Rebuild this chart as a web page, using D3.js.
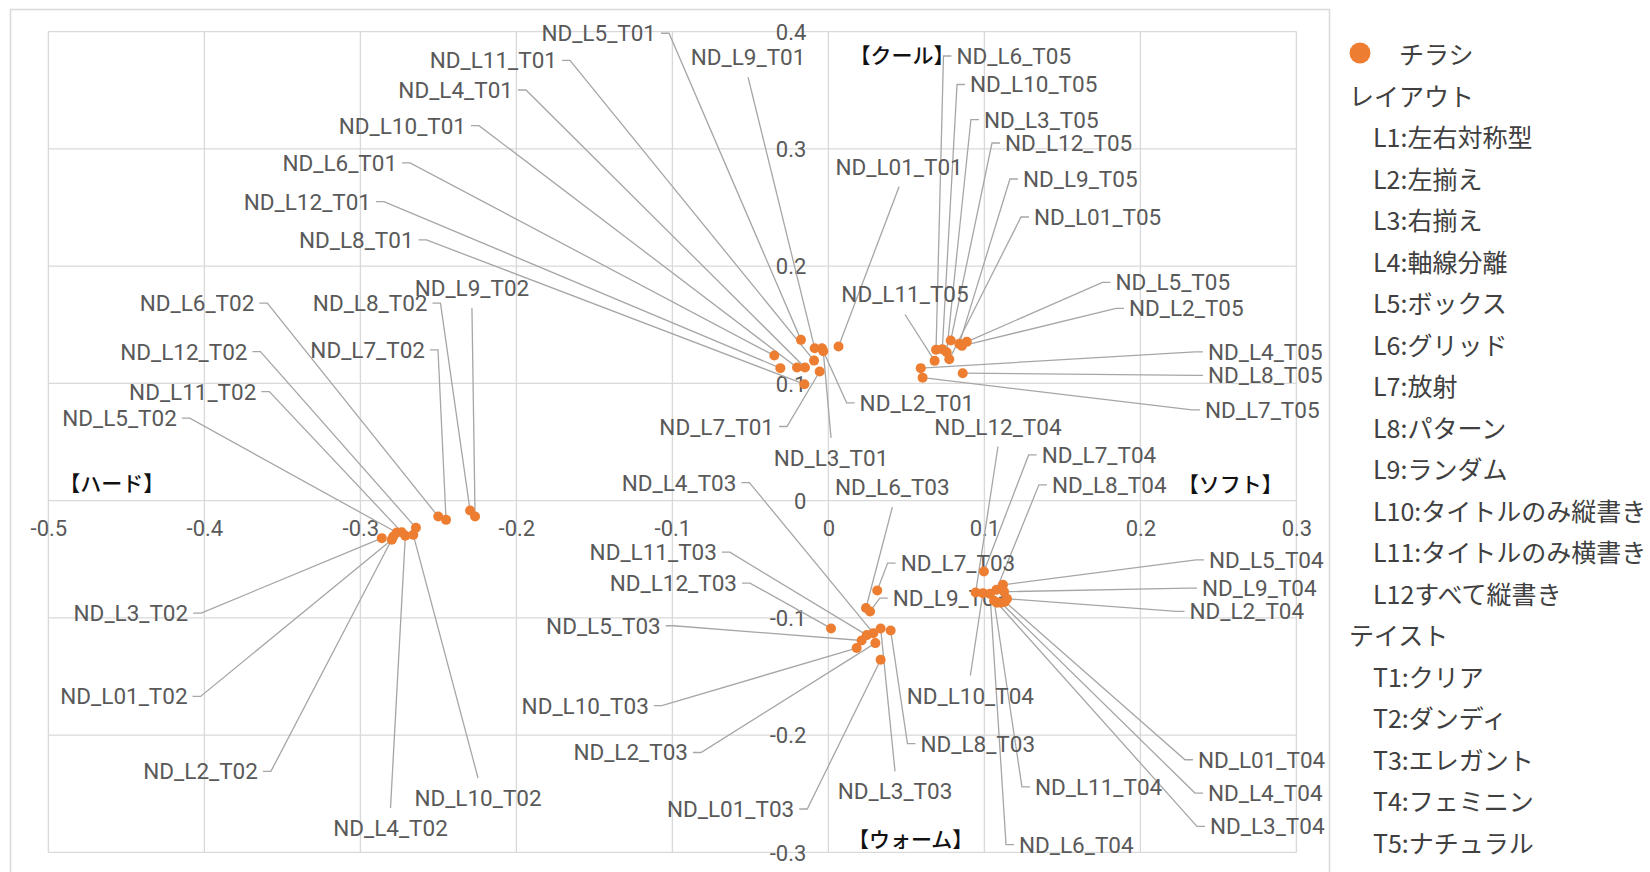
<!DOCTYPE html>
<html><head><meta charset="utf-8">
<script src="https://cdn.jsdelivr.net/npm/d3@7"></script>
<style>
html,body{margin:0;padding:0;background:#fff;}
svg{display:block;}
</style></head>
<body>
<svg id="chart" width="1650" height="872"></svg>
<script>
// ---------- data ----------
const SERIES_NAME = "チラシ";
const X_TICKS = [-0.5,-0.4,-0.3,-0.2,-0.1,0,0.1,0.2,0.3];
const Y_TICKS = [-0.3,-0.2,-0.1,0,0.1,0.2,0.3,0.4];

const names = [
 "ND_L5_T01","ND_L11_T01","ND_L4_T01","ND_L10_T01","ND_L6_T01","ND_L12_T01","ND_L8_T01","ND_L9_T01","ND_L01_T01","ND_L2_T01","ND_L7_T01","ND_L3_T01",
 "ND_L6_T02","ND_L12_T02","ND_L11_T02","ND_L5_T02","ND_L8_T02","ND_L9_T02","ND_L7_T02","ND_L3_T02","ND_L01_T02","ND_L2_T02","ND_L4_T02","ND_L10_T02",
 "ND_L4_T03","ND_L6_T03","ND_L11_T03","ND_L12_T03","ND_L7_T03","ND_L9_T03","ND_L5_T03","ND_L10_T03","ND_L2_T03","ND_L01_T03","ND_L8_T03","ND_L3_T03",
 "ND_L12_T04","ND_L7_T04","ND_L8_T04","ND_L5_T04","ND_L9_T04","ND_L2_T04","ND_L10_T04","ND_L01_T04","ND_L4_T04","ND_L3_T04","ND_L11_T04","ND_L6_T04",
 "ND_L6_T05","ND_L10_T05","ND_L3_T05","ND_L12_T05","ND_L9_T05","ND_L01_T05","ND_L11_T05","ND_L5_T05","ND_L2_T05","ND_L4_T05","ND_L8_T05","ND_L7_T05"
];
const xVals = [
 -0.0176,-0.0092,-0.0150,-0.0201,-0.0347,-0.0308,-0.0154,-0.0088,0.0065,-0.0041,-0.0056,-0.0033,
 -0.2501,-0.2644,-0.2735,-0.2767,-0.2297,-0.2265,-0.2451,-0.2863,-0.2799,-0.2789,-0.2712,-0.2661,
 0.0288,0.0241,0.0246,0.0017,0.0313,0.0267,0.0213,0.0181,0.0301,0.0335,0.0399,0.0335,
 0.0944,0.0997,0.1077,0.1119,0.1126,0.1145,0.0990,0.1132,0.1106,0.1081,0.1062,0.1036,
 0.0690,0.0730,0.0758,0.0784,0.0839,0.0775,0.0681,0.0887,0.0856,0.0592,0.0861,0.0604
];
const yVals = [
 0.1371,0.1194,0.1135,0.1135,0.1237,0.1130,0.0993,0.1300,0.1314,0.1300,0.1101,0.1275,
 -0.0136,-0.0232,-0.0269,-0.0272,-0.0084,-0.0136,-0.0164,-0.0320,-0.0334,-0.0306,-0.0300,-0.0292,
 -0.1130,-0.0916,-0.1147,-0.1090,-0.0766,-0.0945,-0.1193,-0.1257,-0.1215,-0.1357,-0.1107,-0.1090,
 -0.0783,-0.0604,-0.0760,-0.0718,-0.0777,-0.0837,-0.0789,-0.0863,-0.0871,-0.0871,-0.0854,-0.0795,
 0.1286,0.1292,0.1266,0.1365,0.1337,0.1206,0.1192,0.1354,0.1320,0.1130,0.1087,0.1049
];
// label anchor positions (data units) and placement side
const labelX = [
 -0.1105,-0.1740,-0.2022,-0.2323,-0.2765,-0.2932,-0.2659,-0.0515,0.0453,0.0200,-0.0349,0.0017,
 -0.3680,-0.3724,-0.3667,-0.4177,-0.2570,-0.2285,-0.2586,-0.4104,-0.4108,-0.3657,-0.2807,-0.2246,
 -0.0590,0.0410,-0.0715,-0.0586,0.0463,0.0413,-0.1075,-0.1151,-0.0900,-0.0219,0.0590,0.0427,
 0.1087,0.1367,0.1433,0.2440,0.2395,0.2315,0.0910,0.2369,0.2433,0.2446,0.1324,0.1222,
 0.0821,0.0908,0.0997,0.1132,0.1247,0.1318,0.0491,0.1840,0.1927,0.2433,0.2433,0.2414
];
const labelY = [
 0.3986,0.3754,0.3502,0.3198,0.2880,0.2550,0.2223,0.3783,0.2848,0.0834,0.0632,0.0365,
 0.1684,0.1271,0.0930,0.0703,0.1684,0.1814,0.1286,-0.0959,-0.1670,-0.2309,-0.2792,-0.2536,
 0.0154,0.0115,-0.0440,-0.0703,-0.0533,-0.0831,-0.1067,-0.1749,-0.2148,-0.2630,-0.2073,-0.2480,
 0.0632,0.0390,0.0135,-0.0505,-0.0746,-0.0945,-0.1662,-0.2210,-0.2494,-0.2778,-0.2442,-0.2934,
 0.3792,0.3549,0.3250,0.3050,0.2743,0.2419,0.1758,0.1861,0.1639,0.1269,0.1068,0.0774
];
const labelSide = [
 "L","L","L","L","L","L","L","A","A","R","L","B",
 "L","L","L","L","L","A","L","L","L","L","B","B",
 "L","A","L","L","R","R","L","L","L","L","R","B",
 "A","R","R","R","R","R","B","R","R","R","R","R",
 "R","R","R","R","R","R","A","R","R","R","R","R"
];
const quadText = ["【ハード】","【クール】","【ソフト】","【ウォーム】"];
const quadX = [-0.4930,0.0135,0.2240,0.0125];
const quadY = [0.0163,0.3809,0.0149,-0.2877];

const legendLayoutTitle = "レイアウト";
const legendLayout = ["L1:左右対称型","L2:左揃え","L3:右揃え","L4:軸線分離","L5:ボックス","L6:グリッド","L7:放射","L8:パターン","L9:ランダム","L10:タイトルのみ縦書き","L11:タイトルのみ横書き","L12すべて縦書き"];
const legendTasteTitle = "テイスト";
const legendTaste = ["T1:クリア","T2:ダンディ","T3:エレガント","T4:フェミニン","T5:ナチュラル"];

// ---------- drawing ----------
const svg = d3.select("#chart");
const W = 1650, H = 872;
const x = d3.scaleLinear().domain([-0.5,0.3]).range([48.4,1296.4]);
const y = d3.scaleLinear().domain([-0.3,0.4]).range([852.4,31.6]);
const fmt = d => String(Math.round(d*10)/10);
const labelFont = "Roboto, 'Liberation Sans', 'Noto Sans CJK JP', sans-serif";
const jpFont = "'Noto Sans CJK JP', 'Noto Sans', sans-serif";

svg.append("rect").attr("width",W).attr("height",H).attr("fill","#fff");
// chart outer border
svg.append("rect").attr("x",10.5).attr("y",9.5).attr("width",1319).attr("height",870)
  .attr("fill","none").attr("stroke","#d9d9d9").attr("stroke-width",1.5);

// gridlines
const grid = svg.append("g").attr("stroke","#d9d9d9").attr("stroke-width",1.4);
grid.selectAll("line.v").data(X_TICKS).join("line").attr("class","v")
  .attr("x1",d=>x(d)).attr("x2",d=>x(d)).attr("y1",y(0.4)).attr("y2",y(-0.3));
grid.selectAll("line.h").data(Y_TICKS).join("line").attr("class","h")
  .attr("y1",d=>y(d)).attr("y2",d=>y(d)).attr("x1",x(-0.5)).attr("x2",x(0.3));

// axes (labels only, crossing at 0)
const gx = svg.append("g").attr("transform",`translate(0,${y(0)})`)
  .call(d3.axisBottom(x).tickValues(X_TICKS).tickSize(0).tickFormat(fmt));
gx.select(".domain").remove();
gx.selectAll("text").attr("y",28).attr("dy","0.35em")
  .attr("font-family",labelFont).attr("font-size",22).attr("fill","#595959");
const gy = svg.append("g").attr("transform",`translate(${x(0)},0)`)
  .call(d3.axisLeft(y).tickValues(Y_TICKS).tickSize(0).tickFormat(fmt));
gy.select(".domain").remove();
gy.selectAll("text").attr("x",-22).attr("dy","0.35em")
  .attr("font-family",labelFont).attr("font-size",22).attr("fill","#595959");

// quadrant labels
svg.append("g").selectAll("text").data(quadText).join("text")
  .attr("x",(d,i)=>x(quadX[i])).attr("y",(d,i)=>y(quadY[i]))
  .attr("dominant-baseline","central")
  .attr("font-family",jpFont).attr("font-size",21).attr("font-weight",500).attr("fill","#111")
  .text(d=>d);

// data table
const data = names.map((n,i)=>({name:n, x:xVals[i], y:yVals[i], lx:labelX[i], ly:labelY[i], side:labelSide[i]}));

// leader lines
function leader(d){
  const px = x(d.x), py = y(d.y), tx = x(d.lx), ty = y(d.ly);
  if (d.side === "L") return `M${tx+5},${ty}H${tx+13}L${px},${py}`;
  if (d.side === "R") return `M${tx-5},${ty}H${tx-13}L${px},${py}`;
  if (d.side === "A") return `M${tx},${ty+20}L${px},${py}`;
  return `M${tx},${ty-20}L${px},${py}`;
}
svg.append("g").selectAll("path").data(data).join("path")
  .attr("d",leader).attr("fill","none").attr("stroke","#a6a6a6").attr("stroke-width",1.3);

// data labels
svg.append("g").selectAll("text").data(data).join("text")
  .attr("x",d=>x(d.lx)).attr("y",d=>y(d.ly))
  .attr("text-anchor",d=>d.side==="L"?"end":d.side==="R"?"start":"middle")
  .attr("dominant-baseline","central")
  .attr("font-family",labelFont).attr("font-size",22.5).attr("fill","#595959")
  .text(d=>d.name);

// points
svg.append("g").selectAll("circle").data(data).join("circle")
  .attr("cx",d=>x(d.x)).attr("cy",d=>y(d.y)).attr("r",5)
  .attr("fill","#ed7d31");

// legend
const lg = svg.append("g").attr("font-family",jpFont).attr("font-size",25).attr("fill","#404040");
lg.append("circle").attr("cx",1360).attr("cy",53).attr("r",10.5).attr("fill","#ed7d31");
lg.append("text").attr("x",1399).attr("y",53).attr("dominant-baseline","central").text(SERIES_NAME);
const rowH = 41.5;
const rows = [{t:legendLayoutTitle,indent:false}]
  .concat(legendLayout.map(t=>({t,indent:true})))
  .concat([{t:legendTasteTitle,indent:false}])
  .concat(legendTaste.map(t=>({t,indent:true})));
lg.selectAll("text.row").data(rows).join("text").attr("class","row")
  .attr("x",d=>d.indent?1373:1349)
  .attr("y",(d,i)=>94.7+i*rowH)
  .attr("dominant-baseline","central")
  .text(d=>d.t);
</script>
</body></html>
